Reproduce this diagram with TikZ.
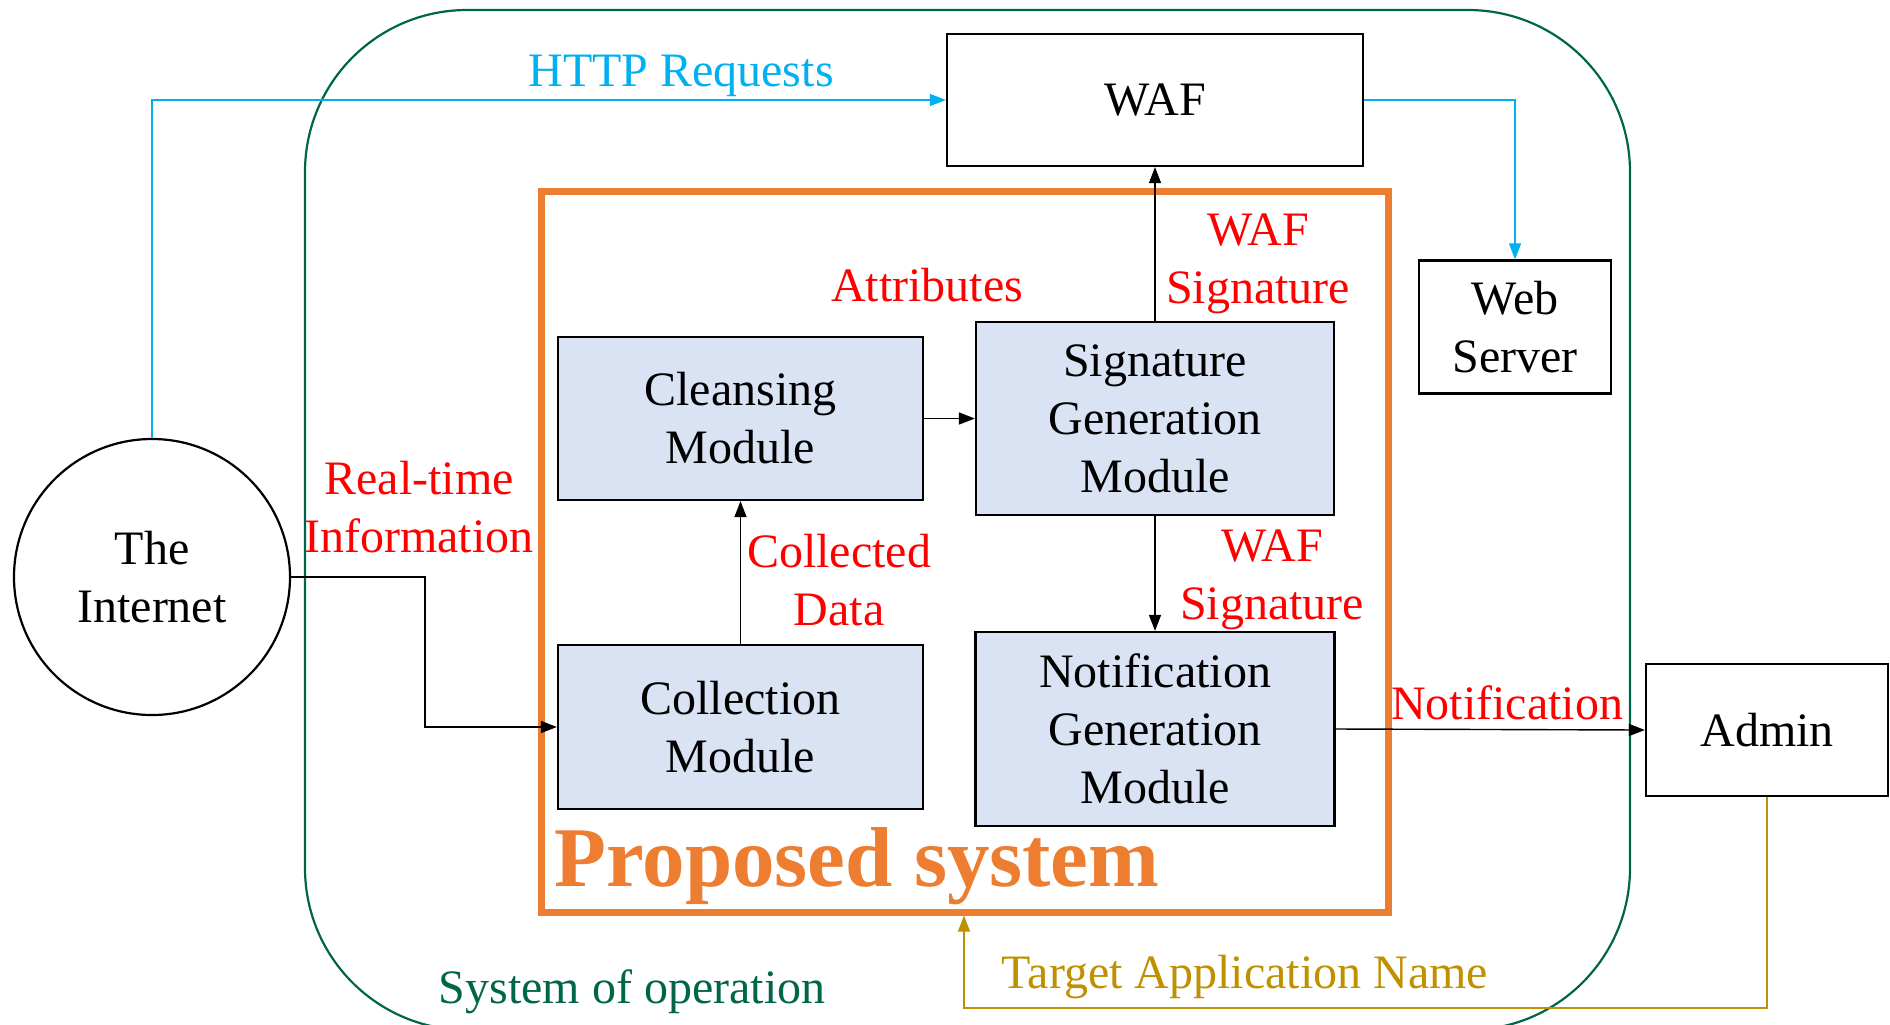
\documentclass[tikz,border=0pt]{standalone}
\usepackage{fontspec}
\setmainfont{Liberation Serif}
\usetikzlibrary{arrows.meta,calc}
\definecolor{modfill}{HTML}{DAE3F3}
\definecolor{httpcyan}{HTML}{00B0F0}
\definecolor{psorange}{HTML}{ED7D31}
\definecolor{tangold}{HTML}{BF9000}
\definecolor{sysgreen}{RGB}{0,102,74}
\definecolor{lblred}{HTML}{FF0000}
\tikzset{
  txt/.style={font=\fontsize{24}{29}\selectfont, align=center, inner sep=0pt},
  plainbox/.style={txt, draw=black, line width=1.1pt, fill=white},
  modbox/.style={txt, draw=black, line width=1.1pt, fill=modfill},
  lbl/.style={txt, text=lblred},
  conn/.style={line width=0.7pt, -{Triangle[length=8pt,width=6pt]}},
}
\begin{document}
\begin{tikzpicture}[x=0.5pt,y=-0.5pt]
\useasboundingbox (0,0) rectangle (1890,1024);
\begin{scope}
\clip (0,0) rectangle (1890,1024);
\draw[sysgreen, line width=1.1pt, rounded corners=81pt] (305,10) rectangle (1630,1030);
\end{scope}

% proposed system frame
\node[draw=psorange, line width=3.5pt, minimum width=423.5pt, minimum height=360.5pt, inner sep=0pt] (ps) at (964.5,551.5) {};

% nodes
\node[plainbox, minimum width=208pt, minimum height=66pt] (waf) at (1155,100) {WAF};
\node[plainbox, minimum width=96pt, minimum height=66.5pt] (web) at (1515,327) {Web\\Server};
\node[modbox, minimum width=182.5pt, minimum height=81.5pt] (clean) at (740.5,418.5) {Cleansing\\Module};
\node[modbox, minimum width=179pt, minimum height=96.5pt] (sig) at (1155,418.5) {Signature\\Generation\\Module};
\node[modbox, minimum width=182.5pt, minimum height=82pt] (coll) at (740.5,727) {Collection\\Module};
\node[modbox, minimum width=179.5pt, minimum height=97pt] (noti) at (1155,729) {Notification\\Generation\\Module};
\node[plainbox, minimum width=121pt, minimum height=66pt] (admin) at (1767,730) {Admin};
\node[txt, draw=black, line width=1.1pt, circle, minimum size=138pt] (inet) at (152,577) {The\\Internet};

% connectors
\draw[conn, httpcyan, line width=0.6pt] (inet.north) |- (waf.west);
\draw[conn, httpcyan, line width=0.6pt] (waf.east) -| (web.north);
\draw[conn] (clean.east) -- (sig.west);
\draw[conn] (coll.north) -- (clean.south);
\draw[conn] (sig.north) -- (waf.south);
\draw[conn] (sig.south) -- (noti.north);
\draw[conn] (inet.east) -- ++(134,0) |- (coll.west);
\draw[conn] (noti.east) -- (admin.west);
\coordinate (tanbot) at (964,1008);
\draw[conn, tangold, line width=0.6pt] (admin.south) |- (tanbot) -- (tanbot |- ps.south);

% labels
\node[txt, text=httpcyan] (lhttp) at (681,76) {HTTP Requests};
\node[lbl] (lattr) at (927,285) {Attributes};
\node[lbl] (lwaf1) at (1258,264) {WAF\\Signature};
\node[lbl] (lwaf2) at (1272,580) {WAF\\Signature};
\node[lbl] (lreal) at (419,507) {Real-time\\Information};
\node[lbl] (lcoll) at (839,580) {Collected\\Data};
\node[lbl] (lnoti) at (1507,703) {Notification};
\node[inner sep=0pt, anchor=base west, text=psorange, font=\fontsize{42.5}{50}\selectfont\bfseries] (lps) at (554,886) {Proposed system};
\node[txt, text=sysgreen, anchor=base] (lsys) at (632,1003) {System of operation};
\node[txt, text=tangold] (ltan) at (1245,977) {Target Application Name};
\end{tikzpicture}
\end{document}
